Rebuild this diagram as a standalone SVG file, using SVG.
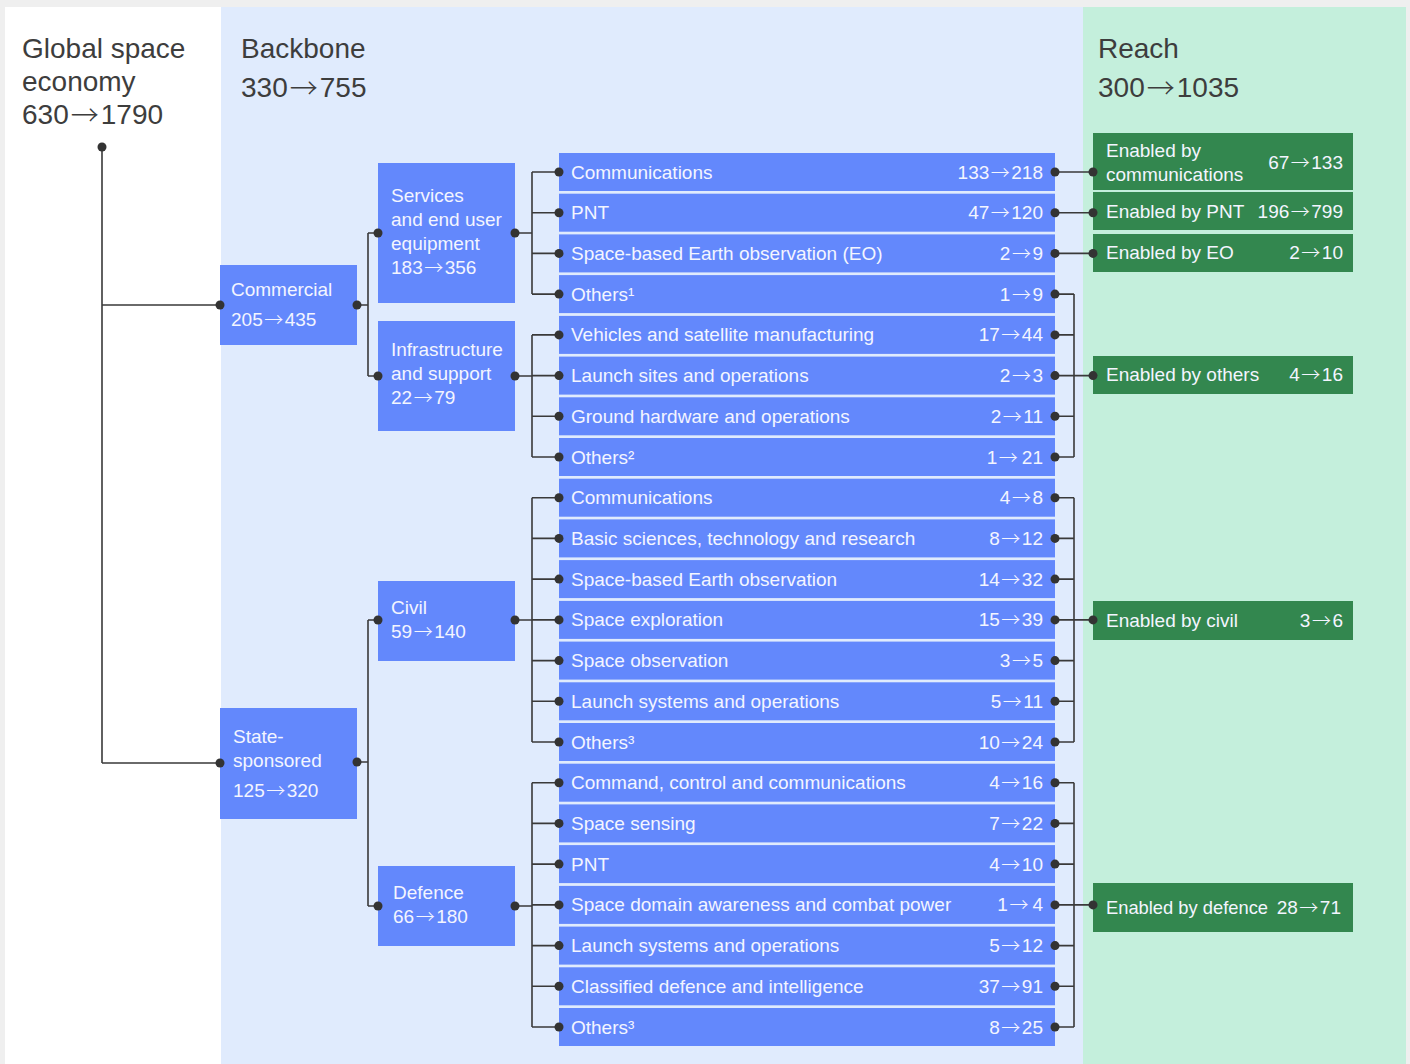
<svg xmlns="http://www.w3.org/2000/svg" width="1410" height="1064" viewBox="0 0 1410 1064">
<style>
text{font-family:"Liberation Sans",Arial,sans-serif}
.a{font-family:"Noto Sans CJK JP","Noto Sans CJK SC",sans-serif;font-weight:300}
.h{font-size:28px;fill:#3d3d3d}
.t{font-size:19px;fill:#f3f5ff}
.r{text-anchor:end}
.b{fill:#6388fc}
.g{fill:#33874f}
.ln{fill:none;stroke:#3a3a3a;stroke-width:1.6}
.d{fill:#333}
</style>
<rect x="0" y="0" width="1410" height="1064" fill="#efefef"/>
<rect x="5" y="7" width="216" height="1057" fill="#ffffff"/>
<rect x="221" y="7" width="862" height="1057" fill="#e0ebfd"/>
<rect x="1083" y="7" width="323" height="1057" fill="#c4efdc"/>

<g id="headers">
<text class="h" x="22" y="58">Global space</text>
<text class="h" x="22" y="91">economy</text>
<text class="h" x="22" y="124">630<tspan class="a" dx="2" dy="1.5">→</tspan><tspan dx="2" dy="-1.5">1790</tspan></text>
<text class="h" x="241" y="58">Backbone</text>
<text class="h" x="241" y="97">330<tspan class="a" dx="2" dy="1.5">→</tspan><tspan dx="2" dy="-1.5">755</tspan></text>
<text class="h" x="1098" y="58">Reach</text>
<text class="h" x="1098" y="97">300<tspan class="a" dx="2" dy="1.5">→</tspan><tspan dx="2" dy="-1.5">1035</tspan></text>
</g>

<g id="connectors">
<path class="ln" d="M102 147V763M102 305H220M102 763H220"/>
<path class="ln" d="M357 305H368M368 233V376M368 233H378M368 376H378"/>
<path class="ln" d="M357 762H368M368 620V906M368 620H378M368 906H378"/>
<path class="ln" d="M515 233H532M532 172V294.1M532 172H559M532 212.7H559M532 253.4H559M532 294.1H559"/>
<path class="ln" d="M515 376H532M532 334.9V457M532 334.9H559M532 375.6H559M532 416.3H559M532 457H559"/>
<path class="ln" d="M515 620H532M532 497.7V742M532 497.7H559M532 538.4H559M532 579.1H559M532 619.9H559M532 660.6H559M532 701.3H559M532 742H559"/>
<path class="ln" d="M515 906H532M532 782.7V1027M532 782.7H559M532 823.4H559M532 864.1H559M532 904.9H559M532 945.6H559M532 986.3H559M532 1027H559"/>
<path class="ln" d="M1055 172H1093M1055 212.7H1093M1055 253.4H1093"/>
<path class="ln" d="M1074 294.1V457M1055 294.1H1074M1055 334.9H1074M1055 375.6H1093M1055 416.3H1074M1055 457H1074"/>
<path class="ln" d="M1074 497.7V742M1055 497.7H1074M1055 538.4H1074M1055 579.1H1074M1055 619.9H1093M1055 660.6H1074M1055 701.3H1074M1055 742H1074"/>
<path class="ln" d="M1074 782.7V1027M1055 782.7H1074M1055 823.4H1074M1055 864.1H1074M1055 904.9H1093M1055 945.6H1074M1055 986.3H1074M1055 1027H1074"/>
</g>

<g id="root"><circle class="d" cx="102" cy="147" r="4.5"/></g>

<g id="commercial">
<rect class="b" x="220" y="265" width="137" height="80"/>
<text class="t" x="231" y="296">Commercial</text>
<text class="t" x="231" y="326">205<tspan class="a" dx="1.5" dy="1">→</tspan><tspan dx="1.5" dy="-1">435</tspan></text>
<circle class="d" cx="220" cy="305" r="4.5"/><circle class="d" cx="357" cy="305" r="4.5"/>
</g>
<g id="state">
<rect class="b" x="220" y="708" width="137" height="111"/>
<text class="t" x="233" y="743">State-</text>
<text class="t" x="233" y="767">sponsored</text>
<text class="t" x="233" y="797">125<tspan class="a" dx="1.5" dy="1">→</tspan><tspan dx="1.5" dy="-1">320</tspan></text>
<circle class="d" cx="220" cy="763" r="4.5"/><circle class="d" cx="357" cy="762" r="4.5"/>
</g>

<g id="services">
<rect class="b" x="378" y="163" width="137" height="140"/>
<text class="t" x="391" y="202">Services</text>
<text class="t" x="391" y="226">and end user</text>
<text class="t" x="391" y="250">equipment</text>
<text class="t" x="391" y="274">183<tspan class="a" dx="1.5" dy="1">→</tspan><tspan dx="1.5" dy="-1">356</tspan></text>
<circle class="d" cx="378" cy="233" r="4.5"/><circle class="d" cx="515" cy="233" r="4.5"/>
</g>
<g id="infrastructure">
<rect class="b" x="378" y="321" width="137" height="110"/>
<text class="t" x="391" y="356">Infrastructure</text>
<text class="t" x="391" y="380">and support</text>
<text class="t" x="391" y="404">22<tspan class="a" dx="1.5" dy="1">→</tspan><tspan dx="1.5" dy="-1">79</tspan></text>
<circle class="d" cx="378" cy="376" r="4.5"/><circle class="d" cx="515" cy="376" r="4.5"/>
</g>
<g id="civil">
<rect class="b" x="378" y="581" width="137" height="80"/>
<text class="t" x="391" y="614">Civil</text>
<text class="t" x="391" y="638">59<tspan class="a" dx="1.5" dy="1">→</tspan><tspan dx="1.5" dy="-1">140</tspan></text>
<circle class="d" cx="378" cy="620" r="4.5"/><circle class="d" cx="515" cy="620" r="4.5"/>
</g>
<g id="defence">
<rect class="b" x="378" y="866" width="137" height="80"/>
<text class="t" x="393" y="899">Defence</text>
<text class="t" x="393" y="923">66<tspan class="a" dx="1.5" dy="1">→</tspan><tspan dx="1.5" dy="-1">180</tspan></text>
<circle class="d" cx="378" cy="906" r="4.5"/><circle class="d" cx="515" cy="906" r="4.5"/>
</g>

<g id="r0"><rect class="b" x="559" y="153" width="496" height="38"/><text class="t" x="571" y="178.5">Communications</text><text class="t r" x="1043" y="178.5">133<tspan class="a" dx="1.5" dy="1">→</tspan><tspan dx="1.5" dy="-1">218</tspan></text><circle class="d" cx="559" cy="172" r="4.5"/><circle class="d" cx="1055" cy="172" r="4.5"/></g>
<g id="r1"><rect class="b" x="559" y="193.7" width="496" height="38"/><text class="t" x="571" y="219.2">PNT</text><text class="t r" x="1043" y="219.2">47<tspan class="a" dx="1.5" dy="1">→</tspan><tspan dx="1.5" dy="-1">120</tspan></text><circle class="d" cx="559" cy="212.7" r="4.5"/><circle class="d" cx="1055" cy="212.7" r="4.5"/></g>
<g id="r2"><rect class="b" x="559" y="234.4" width="496" height="38"/><text class="t" x="571" y="259.9">Space-based Earth observation (EO)</text><text class="t r" x="1043" y="259.9">2<tspan class="a" dx="1.5" dy="1">→</tspan><tspan dx="1.5" dy="-1">9</tspan></text><circle class="d" cx="559" cy="253.4" r="4.5"/><circle class="d" cx="1055" cy="253.4" r="4.5"/></g>
<g id="r3"><rect class="b" x="559" y="275.1" width="496" height="38"/><text class="t" x="571" y="300.6">Others¹</text><text class="t r" x="1043" y="300.6">1<tspan class="a" dx="1.5" dy="1">→</tspan><tspan dx="1.5" dy="-1">9</tspan></text><circle class="d" cx="559" cy="294.1" r="4.5"/><circle class="d" cx="1055" cy="294.1" r="4.5"/></g>
<g id="r4"><rect class="b" x="559" y="315.9" width="496" height="38"/><text class="t" x="571" y="341.4">Vehicles and satellite manufacturing</text><text class="t r" x="1043" y="341.4">17<tspan class="a" dx="1.5" dy="1">→</tspan><tspan dx="1.5" dy="-1">44</tspan></text><circle class="d" cx="559" cy="334.9" r="4.5"/><circle class="d" cx="1055" cy="334.9" r="4.5"/></g>
<g id="r5"><rect class="b" x="559" y="356.6" width="496" height="38"/><text class="t" x="571" y="382.1">Launch sites and operations</text><text class="t r" x="1043" y="382.1">2<tspan class="a" dx="1.5" dy="1">→</tspan><tspan dx="1.5" dy="-1">3</tspan></text><circle class="d" cx="559" cy="375.6" r="4.5"/><circle class="d" cx="1055" cy="375.6" r="4.5"/></g>
<g id="r6"><rect class="b" x="559" y="397.3" width="496" height="38"/><text class="t" x="571" y="422.8">Ground hardware and operations</text><text class="t r" x="1043" y="422.8">2<tspan class="a" dx="1.5" dy="1">→</tspan><tspan dx="1.5" dy="-1">11</tspan></text><circle class="d" cx="559" cy="416.3" r="4.5"/><circle class="d" cx="1055" cy="416.3" r="4.5"/></g>
<g id="r7"><rect class="b" x="559" y="438" width="496" height="38"/><text class="t" x="571" y="463.5">Others²</text><text class="t r" x="1043" y="463.5">1<tspan class="a" dx="1.5" dy="1">→</tspan><tspan dx="4" dy="-1">21</tspan></text><circle class="d" cx="559" cy="457" r="4.5"/><circle class="d" cx="1055" cy="457" r="4.5"/></g>
<g id="r8"><rect class="b" x="559" y="478.7" width="496" height="38"/><text class="t" x="571" y="504.2">Communications</text><text class="t r" x="1043" y="504.2">4<tspan class="a" dx="1.5" dy="1">→</tspan><tspan dx="1.5" dy="-1">8</tspan></text><circle class="d" cx="559" cy="497.7" r="4.5"/><circle class="d" cx="1055" cy="497.7" r="4.5"/></g>
<g id="r9"><rect class="b" x="559" y="519.4" width="496" height="38"/><text class="t" x="571" y="544.9">Basic sciences, technology and research</text><text class="t r" x="1043" y="544.9">8<tspan class="a" dx="1.5" dy="1">→</tspan><tspan dx="1.5" dy="-1">12</tspan></text><circle class="d" cx="559" cy="538.4" r="4.5"/><circle class="d" cx="1055" cy="538.4" r="4.5"/></g>
<g id="r10"><rect class="b" x="559" y="560.1" width="496" height="38"/><text class="t" x="571" y="585.6">Space-based Earth observation</text><text class="t r" x="1043" y="585.6">14<tspan class="a" dx="1.5" dy="1">→</tspan><tspan dx="1.5" dy="-1">32</tspan></text><circle class="d" cx="559" cy="579.1" r="4.5"/><circle class="d" cx="1055" cy="579.1" r="4.5"/></g>
<g id="r11"><rect class="b" x="559" y="600.9" width="496" height="38"/><text class="t" x="571" y="626.4">Space exploration</text><text class="t r" x="1043" y="626.4">15<tspan class="a" dx="1.5" dy="1">→</tspan><tspan dx="1.5" dy="-1">39</tspan></text><circle class="d" cx="559" cy="619.9" r="4.5"/><circle class="d" cx="1055" cy="619.9" r="4.5"/></g>
<g id="r12"><rect class="b" x="559" y="641.6" width="496" height="38"/><text class="t" x="571" y="667.1">Space observation</text><text class="t r" x="1043" y="667.1">3<tspan class="a" dx="1.5" dy="1">→</tspan><tspan dx="1.5" dy="-1">5</tspan></text><circle class="d" cx="559" cy="660.6" r="4.5"/><circle class="d" cx="1055" cy="660.6" r="4.5"/></g>
<g id="r13"><rect class="b" x="559" y="682.3" width="496" height="38"/><text class="t" x="571" y="707.8">Launch systems and operations</text><text class="t r" x="1043" y="707.8">5<tspan class="a" dx="1.5" dy="1">→</tspan><tspan dx="1.5" dy="-1">11</tspan></text><circle class="d" cx="559" cy="701.3" r="4.5"/><circle class="d" cx="1055" cy="701.3" r="4.5"/></g>
<g id="r14"><rect class="b" x="559" y="723" width="496" height="38"/><text class="t" x="571" y="748.5">Others³</text><text class="t r" x="1043" y="748.5">10<tspan class="a" dx="1.5" dy="1">→</tspan><tspan dx="1.5" dy="-1">24</tspan></text><circle class="d" cx="559" cy="742" r="4.5"/><circle class="d" cx="1055" cy="742" r="4.5"/></g>
<g id="r15"><rect class="b" x="559" y="763.7" width="496" height="38"/><text class="t" x="571" y="789.2">Command, control and communications</text><text class="t r" x="1043" y="789.2">4<tspan class="a" dx="1.5" dy="1">→</tspan><tspan dx="1.5" dy="-1">16</tspan></text><circle class="d" cx="559" cy="782.7" r="4.5"/><circle class="d" cx="1055" cy="782.7" r="4.5"/></g>
<g id="r16"><rect class="b" x="559" y="804.4" width="496" height="38"/><text class="t" x="571" y="829.9">Space sensing</text><text class="t r" x="1043" y="829.9">7<tspan class="a" dx="1.5" dy="1">→</tspan><tspan dx="1.5" dy="-1">22</tspan></text><circle class="d" cx="559" cy="823.4" r="4.5"/><circle class="d" cx="1055" cy="823.4" r="4.5"/></g>
<g id="r17"><rect class="b" x="559" y="845.1" width="496" height="38"/><text class="t" x="571" y="870.6">PNT</text><text class="t r" x="1043" y="870.6">4<tspan class="a" dx="1.5" dy="1">→</tspan><tspan dx="1.5" dy="-1">10</tspan></text><circle class="d" cx="559" cy="864.1" r="4.5"/><circle class="d" cx="1055" cy="864.1" r="4.5"/></g>
<g id="r18"><rect class="b" x="559" y="885.9" width="496" height="38"/><text class="t" x="571" y="911.4">Space domain awareness and combat power</text><text class="t r" x="1043" y="911.4">1<tspan class="a" dx="1.5" dy="1">→</tspan><tspan dx="4" dy="-1">4</tspan></text><circle class="d" cx="559" cy="904.9" r="4.5"/><circle class="d" cx="1055" cy="904.9" r="4.5"/></g>
<g id="r19"><rect class="b" x="559" y="926.6" width="496" height="38"/><text class="t" x="571" y="952.1">Launch systems and operations</text><text class="t r" x="1043" y="952.1">5<tspan class="a" dx="1.5" dy="1">→</tspan><tspan dx="1.5" dy="-1">12</tspan></text><circle class="d" cx="559" cy="945.6" r="4.5"/><circle class="d" cx="1055" cy="945.6" r="4.5"/></g>
<g id="r20"><rect class="b" x="559" y="967.3" width="496" height="38"/><text class="t" x="571" y="992.8">Classified defence and intelligence</text><text class="t r" x="1043" y="992.8">37<tspan class="a" dx="1.5" dy="1">→</tspan><tspan dx="1.5" dy="-1">91</tspan></text><circle class="d" cx="559" cy="986.3" r="4.5"/><circle class="d" cx="1055" cy="986.3" r="4.5"/></g>
<g id="r21"><rect class="b" x="559" y="1008" width="496" height="38"/><text class="t" x="571" y="1033.5">Others³</text><text class="t r" x="1043" y="1033.5">8<tspan class="a" dx="1.5" dy="1">→</tspan><tspan dx="1.5" dy="-1">25</tspan></text><circle class="d" cx="559" cy="1027" r="4.5"/><circle class="d" cx="1055" cy="1027" r="4.5"/></g>

<g id="e-comm"><rect class="g" x="1093" y="133" width="260" height="57"/><text class="t" x="1106" y="157">Enabled by</text><text class="t" x="1106" y="181">communications</text><text class="t r" x="1343" y="169">67<tspan class="a" dx="1.5" dy="1">→</tspan><tspan dx="1.5" dy="-1">133</tspan></text><circle class="d" cx="1093" cy="172" r="4.5"/></g>
<g id="e-pnt"><rect class="g" x="1093" y="192" width="260" height="38"/><text class="t" x="1106" y="217.5">Enabled by PNT</text><text class="t r" x="1343" y="217.5">196<tspan class="a" dx="1.5" dy="1">→</tspan><tspan dx="1.5" dy="-1">799</tspan></text><circle class="d" cx="1093" cy="212.7" r="4.5"/></g>
<g id="e-eo"><rect class="g" x="1093" y="234" width="260" height="38"/><text class="t" x="1106" y="258.5">Enabled by EO</text><text class="t r" x="1343" y="258.5">2<tspan class="a" dx="1.5" dy="1">→</tspan><tspan dx="1.5" dy="-1">10</tspan></text><circle class="d" cx="1093" cy="253.4" r="4.5"/></g>
<g id="e-others"><rect class="g" x="1093" y="356" width="260" height="38"/><text class="t" x="1106" y="381">Enabled by others</text><text class="t r" x="1343" y="381">4<tspan class="a" dx="1.5" dy="1">→</tspan><tspan dx="1.5" dy="-1">16</tspan></text><circle class="d" cx="1093" cy="375.6" r="4.5"/></g>
<g id="e-civil"><rect class="g" x="1093" y="601" width="260" height="39"/><text class="t" x="1106" y="627">Enabled by civil</text><text class="t r" x="1343" y="627">3<tspan class="a" dx="1.5" dy="1">→</tspan><tspan dx="1.5" dy="-1">6</tspan></text><circle class="d" cx="1093" cy="619.9" r="4.5"/></g>
<g id="e-defence"><rect class="g" x="1093" y="883" width="260" height="49"/><text class="t" x="1106" y="914" textLength="162" lengthAdjust="spacingAndGlyphs">Enabled by defence</text><text class="t r" x="1341" y="914">28<tspan class="a" dx="1.5" dy="1">→</tspan><tspan dx="1.5" dy="-1">71</tspan></text><circle class="d" cx="1093" cy="904.9" r="4.5"/></g>
</svg>
